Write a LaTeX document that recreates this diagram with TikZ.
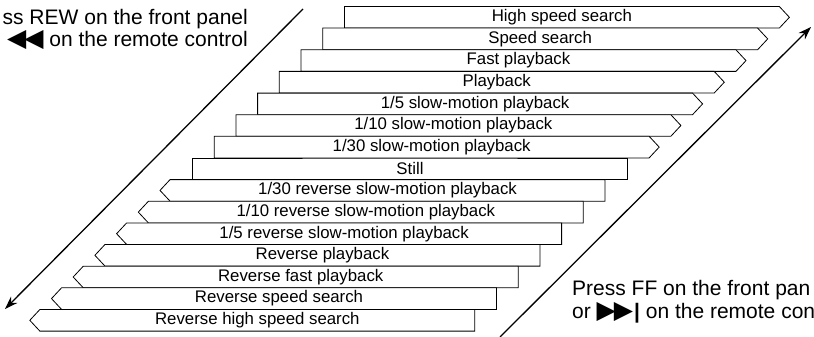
\documentclass[tikz,border=0pt]{standalone}
\usepackage{fontspec}
\setmainfont{Liberation Sans}
\newfontfamily\symfont{DejaVu Sans}
\usetikzlibrary{arrows.meta, shapes.symbols}
\definecolor{ink}{HTML}{000000}

\begin{document}
\begin{tikzpicture}[
    x=1pt, y=-1pt,
    arr/.style={-{Stealth[length=13pt, width=9pt]}, line width=1.3pt, ink},
    % Playback mode bar
    mode/.style={signal, draw=ink, line width=0.8pt, fill=white,
                 minimum height=21.6pt, inner sep=0pt, signal pointer angle=94,
                 font=\fontsize{16.8}{18}\selectfont},
    fwd/.style={mode, signal to=east, minimum width=445pt, anchor=west},
    still/.style={mode, signal to=nowhere, minimum width=435pt, anchor=west},
    rev/.style={mode, signal to=west, minimum width=445pt, anchor=east},
    note/.style={inner sep=0pt, font=\fontsize{21}{24}\selectfont}
]
\useasboundingbox (0,0) rectangle (814,337);

% ========== Forward modes ==========
\node[fwd] at (344.0, 17.3) (hss) {High speed search};
\node[fwd] at (322.3, 38.9) (ss) {Speed search};
\node[fwd] at (300.6, 60.6) (fp) {Fast playback};
\node[fwd] at (278.9, 82.2) (pb) {Playback};
\node[fwd] at (257.2, 103.9) (slow5) {1/5 slow-motion playback};
\node[fwd] at (235.5, 125.5) (slow10) {1/10 slow-motion playback};
\node[fwd] at (213.8, 147.1) (slow30) {1/30 slow-motion playback};

% ========== Still ==========
\node[still] at (192.1, 168.8) (still) {Still};

% ========== Reverse modes ==========
\node[rev] at (605.4, 190.4) (rslow30) {1/30 reverse slow-motion playback};
\node[rev] at (583.7, 212.1) (rslow10) {1/10 reverse slow-motion playback};
\node[rev] at (562.0, 233.7) (rslow5) {1/5 reverse slow-motion playback};
\node[rev] at (540.3, 255.3) (rpb) {Reverse playback};
\node[rev] at (518.6, 277.0) (rfp) {Reverse fast playback};
\node[rev] at (496.9, 298.6) (rss) {Reverse speed search};
\node[rev] at (475.2, 320.3) (rhss) {Reverse high speed search};

% ========== REW (left) ==========
\node[note, anchor=base east] at (248, 25) (rew1) {ss REW on the front panel};
\node[note, anchor=base east] at (248, 47) (rew2)
    {{\symfont\fontsize{25}{24}\selectfont ◀\kern-2pt◀} on the remote control};
\coordinate (rewA) at (303, 9);
\coordinate (rewB) at (5, 309);
\draw[arr] (rewA) -- (rewB);

% ========== FF (right) ==========
\node[note, anchor=base west] at (572, 295) (ff1) {Press FF on the front pan};
\node[note, anchor=base west] at (572, 318) (ff2)
    {or {\symfont\fontsize{25}{24}\selectfont ▶\kern-2pt▶}\kern1pt{\bfseries|} on the remote con};
\coordinate (ffA) at (500, 337);
\coordinate (ffB) at (811, 27);
\draw[arr] (ffA) -- (ffB);

\end{tikzpicture}
\end{document}
